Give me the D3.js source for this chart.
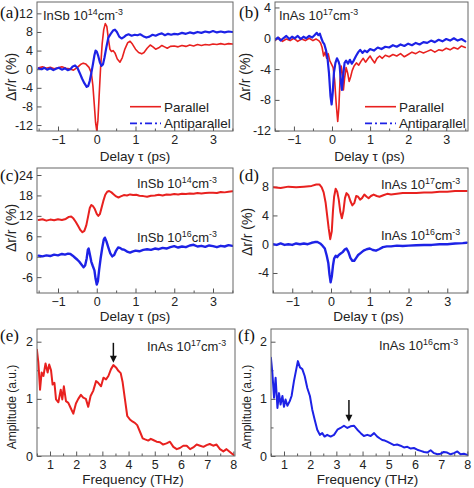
<!DOCTYPE html>
<html><head><meta charset="utf-8">
<script src="https://cdn.jsdelivr.net/npm/d3@7"></script>
<style>
body{margin:0;background:#fff;}
svg{display:block;}
text{font-family:"Liberation Sans",Arial,sans-serif;fill:#222;}
.plab{font-family:"Liberation Serif","Times New Roman",serif;font-size:17px;fill:#111;}
</style>
</head><body>
<script>
// ---------------- DATA ----------------
const timeTicks = [-1, 0, 1, 2, 3];
const timeMinor = [-1.5, -0.5, 0.5, 1.5, 2.5, 3.5];
const freqTicks = [1, 2, 3, 4, 5, 6, 7, 8];
const freqMinor = [0.5, 1.5, 2.5, 3.5, 4.5, 5.5, 6.5, 7.5];
const yTicksA = [-12, -8, -4, 0, 4, 8, 12];
const yTicksB = [-12, -8, -4, 0, 4];
const yTicksC = [-6, 0, 6, 12, 18, 24];
const yTicksD = [-4, 0, 4, 8];
const yTicksAmp = [0, 1, 2];
const yMinorAmp = [0.5, 1.5];

const legendLabels = ["Parallel", "Antiparallel"];
const labelInSb14 = [["InSb 10", 0], ["14", 1], ["cm", 0], ["-3", 1]];
const labelInSb16 = [["InSb 10", 0], ["16", 1], ["cm", 0], ["-3", 1]];
const labelInAs17 = [["InAs 10", 0], ["17", 1], ["cm", 0], ["-3", 1]];
const labelInAs16 = [["InAs 10", 0], ["16", 1], ["cm", 0], ["-3", 1]];

// (a) InSb 1e14: parallel / antiparallel
const aParallel = [[-1.5,0.3],[-1.4,0.5],[-1.3,0.2],[-1.2,0.4],[-1.1,0.1],[-1.0,0.3],[-0.9,0.5],[-0.8,0.2],[-0.7,0.1],[-0.6,-0.2],[-0.5,0.4],[-0.42,1.0],[-0.35,1.3],[-0.28,1.1],[-0.2,0.4],[-0.14,-0.8],[-0.1,-3.5],[-0.06,-8],[-0.03,-11.5],[0.0,-13.2],[0.03,-11],[0.06,-6],[0.1,0.5],[0.14,5.5],[0.18,8.5],[0.22,9.8],[0.26,9.2],[0.3,6.5],[0.34,4.3],[0.38,3.8],[0.42,4.0],[0.47,3.5],[0.53,2.2],[0.6,1.5],[0.66,2.5],[0.72,4.2],[0.8,5.7],[0.86,6.0],[0.92,5.4],[1.0,4.3],[1.08,3.6],[1.16,3.3],[1.22,3.6],[1.3,4.5],[1.38,5.2],[1.45,4.8],[1.52,4.3],[1.6,4.6],[1.68,5.1],[1.75,4.8],[1.82,4.5],[1.9,4.9],[2.0,5.0],[2.1,4.8],[2.2,5.1],[2.3,4.9],[2.4,5.2],[2.5,5.0],[2.6,5.3],[2.7,5.1],[2.8,5.3],[2.9,5.2],[3.0,5.4],[3.1,5.3],[3.2,5.5],[3.3,5.3],[3.4,5.5],[3.5,5.4]];
const aAnti = [[-1.5,0.2],[-1.42,0.0],[-1.35,0.3],[-1.28,-0.1],[-1.2,0.2],[-1.12,-0.2],[-1.05,0.1],[-0.98,0.3],[-0.9,-0.1],[-0.82,0.2],[-0.75,-0.2],[-0.68,0.0],[-0.62,0.6],[-0.56,0.8],[-0.5,0.3],[-0.44,-0.8],[-0.38,-2.0],[-0.32,-3.0],[-0.26,-3.8],[-0.22,-3.6],[-0.18,-2.5],[-0.14,-0.8],[-0.1,1.0],[-0.06,3.0],[-0.03,4.0],[0.0,3.8],[0.04,2.8],[0.08,1.5],[0.12,0.7],[0.16,1.0],[0.2,2.5],[0.25,4.8],[0.3,6.8],[0.36,7.6],[0.42,8.3],[0.47,8.5],[0.52,8.0],[0.58,7.0],[0.64,6.6],[0.7,6.9],[0.76,7.3],[0.82,7.5],[0.9,7.2],[0.98,7.4],[1.05,7.3],[1.12,7.5],[1.2,7.1],[1.28,6.8],[1.36,7.0],[1.44,7.4],[1.52,7.2],[1.6,7.5],[1.68,7.7],[1.76,7.3],[1.84,7.6],[1.92,7.4],[2.0,7.6],[2.1,7.5],[2.2,7.8],[2.3,7.6],[2.4,7.9],[2.5,7.7],[2.6,8.0],[2.7,7.8],[2.8,8.1],[2.9,7.9],[3.0,8.2],[3.1,7.9],[3.2,8.1],[3.3,7.9],[3.4,8.1],[3.5,8.0]];

// (b) InAs 1e17: parallel / antiparallel
const bParallel = [[-1.5,-0.3],[-1.4,0.1],[-1.3,-0.4],[-1.2,-0.1],[-1.1,-0.3],[-1.0,0.0],[-0.9,-0.4],[-0.8,-0.1],[-0.7,-0.3],[-0.6,0.0],[-0.5,-0.3],[-0.42,-0.1],[-0.35,-0.3],[-0.3,-0.6],[-0.26,-1.2],[-0.22,-2.3],[-0.18,-1.8],[-0.14,-2.6],[-0.1,-2.0],[-0.06,-2.9],[-0.02,-3.3],[0.03,-3.8],[0.07,-5.5],[0.11,-8.5],[0.15,-10.8],[0.18,-9.0],[0.21,-5.5],[0.24,-3.6],[0.27,-4.5],[0.3,-6.7],[0.33,-5.2],[0.37,-3.8],[0.41,-4.5],[0.45,-5.6],[0.49,-5.0],[0.53,-4.2],[0.58,-3.6],[0.64,-3.2],[0.7,-3.5],[0.76,-3.0],[0.82,-2.6],[0.88,-3.1],[0.94,-2.7],[1.0,-2.3],[1.06,-2.8],[1.12,-3.2],[1.18,-2.6],[1.25,-2.3],[1.32,-2.6],[1.4,-2.2],[1.5,-2.4],[1.6,-2.1],[1.7,-2.3],[1.8,-2.0],[1.9,-2.4],[2.0,-2.1],[2.1,-1.8],[2.2,-2.0],[2.3,-1.7],[2.4,-1.9],[2.5,-1.7],[2.6,-1.5],[2.7,-1.8],[2.8,-1.5],[2.9,-1.6],[3.0,-1.3],[3.1,-1.5],[3.2,-1.2],[3.3,-1.4],[3.4,-1.0],[3.5,-1.2]];
const bAnti = [[-1.5,-0.2],[-1.42,0.1],[-1.35,-0.3],[-1.28,0.0],[-1.2,0.3],[-1.12,-0.1],[-1.05,0.2],[-0.98,0.0],[-0.9,0.3],[-0.82,-0.1],[-0.75,0.2],[-0.68,0.0],[-0.6,0.3],[-0.52,0.1],[-0.46,0.4],[-0.4,0.7],[-0.36,0.4],[-0.32,0.6],[-0.28,0.0],[-0.24,-0.5],[-0.2,-0.8],[-0.16,-1.5],[-0.12,-2.5],[-0.08,-4.5],[-0.04,-7.5],[-0.01,-8.6],[0.02,-7.0],[0.05,-4.5],[0.09,-3.2],[0.13,-2.6],[0.17,-3.0],[0.2,-3.5],[0.23,-5.5],[0.26,-6.7],[0.29,-5.0],[0.33,-3.2],[0.37,-2.9],[0.42,-3.3],[0.47,-2.8],[0.52,-3.3],[0.57,-2.9],[0.63,-2.3],[0.69,-1.8],[0.74,-1.5],[0.8,-1.9],[0.86,-1.6],[0.92,-1.8],[1.0,-1.4],[1.1,-1.6],[1.2,-1.2],[1.3,-1.4],[1.4,-1.1],[1.5,-1.2],[1.6,-0.9],[1.7,-1.1],[1.8,-0.8],[1.9,-1.0],[2.0,-0.7],[2.1,-0.9],[2.2,-0.6],[2.3,-0.8],[2.4,-0.5],[2.5,-0.6],[2.6,-0.3],[2.7,-0.5],[2.8,-0.2],[2.9,-0.4],[3.0,-0.1],[3.1,-0.3],[3.2,0.0],[3.3,-0.3],[3.4,-0.1],[3.5,-0.4]];

// (c) InSb 1e14 (offset) and 1e16
const cInSb14 = [[-1.5,10.8],[-1.4,11.0],[-1.3,10.6],[-1.2,10.9],[-1.1,10.7],[-1.0,11.0],[-0.9,10.8],[-0.8,11.1],[-0.72,11.7],[-0.66,11.8],[-0.6,11.2],[-0.54,10.2],[-0.48,9.0],[-0.42,7.8],[-0.37,7.2],[-0.32,7.6],[-0.27,9.2],[-0.22,12.0],[-0.18,14.3],[-0.14,15.2],[-0.1,14.9],[-0.05,14.0],[0.0,12.6],[0.04,12.0],[0.08,12.5],[0.12,14.2],[0.17,16.4],[0.22,18.2],[0.27,19.1],[0.32,19.3],[0.38,18.9],[0.44,18.3],[0.5,17.7],[0.56,17.4],[0.62,17.7],[0.7,18.1],[0.78,18.0],[0.86,18.3],[0.94,18.1],[1.02,18.2],[1.1,17.9],[1.2,17.8],[1.3,17.6],[1.4,17.9],[1.5,18.0],[1.6,18.2],[1.7,18.0],[1.8,18.3],[1.9,18.2],[2.0,18.4],[2.1,18.3],[2.2,18.5],[2.3,18.4],[2.4,18.6],[2.5,18.5],[2.6,18.7],[2.7,18.6],[2.8,18.7],[2.9,18.8],[3.0,18.8],[3.1,18.7],[3.2,19.0],[3.3,18.9],[3.4,19.1],[3.5,19.2]];
const cInSb16 = [[-1.5,0.3],[-1.4,0.1],[-1.3,0.4],[-1.2,0.2],[-1.1,0.6],[-1.0,0.4],[-0.9,0.8],[-0.82,0.6],[-0.74,0.9],[-0.68,0.8],[-0.62,0.3],[-0.56,-0.3],[-0.5,-0.9],[-0.44,-1.6],[-0.38,-2.5],[-0.34,-3.1],[-0.3,-2.6],[-0.26,-0.5],[-0.23,2.0],[-0.21,2.4],[-0.18,0.8],[-0.14,-1.5],[-0.1,-2.8],[-0.06,-4.0],[-0.03,-6.5],[0.0,-8.2],[0.03,-7.2],[0.06,-4.0],[0.1,-0.5],[0.14,2.5],[0.18,5.0],[0.21,5.6],[0.25,4.5],[0.3,2.7],[0.35,1.0],[0.4,0.1],[0.45,0.5],[0.5,1.8],[0.55,2.7],[0.6,2.6],[0.65,2.2],[0.72,2.0],[0.8,1.4],[0.86,1.2],[0.92,1.5],[1.0,1.8],[1.1,1.6],[1.2,2.0],[1.3,2.2],[1.4,2.0],[1.5,2.4],[1.6,2.2],[1.7,2.6],[1.8,2.4],[1.9,2.8],[2.0,3.1],[2.1,2.7],[2.2,3.0],[2.3,2.8],[2.4,3.3],[2.5,3.5],[2.6,3.0],[2.7,3.2],[2.8,2.9],[2.9,3.3],[3.0,3.1],[3.1,2.8],[3.2,3.2],[3.3,3.0],[3.4,3.4],[3.5,3.2]];

// (d) InAs 1e17 (offset) and 1e16
const dInAs17 = [[-1.5,7.9],[-1.3,7.8],[-1.1,8.0],[-0.9,7.9],[-0.7,8.0],[-0.5,8.1],[-0.38,8.3],[-0.3,8.3],[-0.24,7.9],[-0.19,7.2],[-0.14,5.8],[-0.1,4.0],[-0.06,2.2],[-0.02,0.7],[0.02,1.8],[0.05,4.6],[0.08,6.6],[0.12,7.7],[0.16,7.3],[0.2,6.2],[0.24,4.5],[0.28,3.6],[0.32,4.6],[0.36,6.4],[0.4,7.1],[0.45,6.8],[0.5,6.0],[0.55,5.4],[0.6,5.7],[0.65,6.7],[0.7,6.6],[0.75,6.2],[0.8,6.4],[0.86,6.9],[0.92,6.6],[0.97,6.4],[1.03,6.7],[1.1,6.9],[1.18,6.7],[1.25,6.6],[1.35,6.8],[1.45,7.0],[1.55,6.9],[1.7,7.0],[1.85,7.1],[2.0,7.1],[2.2,7.1],[2.4,7.2],[2.6,7.2],[2.8,7.3],[3.0,7.3],[3.2,7.4],[3.4,7.4],[3.5,7.4]];
const dInAs16 = [[-1.5,0.0],[-1.4,-0.1],[-1.3,0.1],[-1.2,-0.1],[-1.1,0.0],[-1.0,-0.1],[-0.9,0.1],[-0.8,0.0],[-0.7,0.1],[-0.6,0.0],[-0.5,0.2],[-0.42,0.3],[-0.35,0.3],[-0.28,0.1],[-0.22,-0.2],[-0.16,-0.6],[-0.11,-1.6],[-0.07,-2.6],[-0.04,-4.2],[-0.01,-5.3],[0.02,-4.5],[0.05,-3.0],[0.08,-2.0],[0.12,-1.6],[0.16,-1.8],[0.2,-1.5],[0.25,-1.3],[0.3,-1.1],[0.36,-0.7],[0.4,-0.6],[0.45,-1.1],[0.5,-1.9],[0.55,-2.3],[0.6,-2.3],[0.65,-1.9],[0.7,-1.5],[0.77,-1.2],[0.84,-0.9],[0.92,-0.7],[1.0,-0.6],[1.08,-0.8],[1.16,-0.9],[1.24,-0.7],[1.34,-0.4],[1.44,-0.3],[1.55,-0.3],[1.7,-0.2],[1.85,-0.25],[2.0,-0.2],[2.2,-0.15],[2.4,-0.1],[2.6,-0.1],[2.8,0.0],[3.0,0.0],[3.2,0.1],[3.4,0.15],[3.5,0.2]];

// (e) FFT amplitude InAs 1e17 ; (f) InAs 1e16
const eAmp = [[0.5,1.86],[0.555,1.64],[0.62,1.16],[0.68,1.46],[0.75,1.40],[0.83,1.62],[0.91,1.46],[0.97,1.60],[1.04,1.50],[1.10,1.25],[1.17,1.28],[1.23,0.99],[1.32,0.94],[1.41,1.16],[1.47,0.99],[1.53,1.22],[1.61,0.96],[1.70,0.93],[1.79,0.84],[1.89,0.74],[1.99,0.92],[2.08,1.00],[2.18,1.07],[2.27,1.02],[2.37,1.00],[2.46,0.86],[2.55,1.05],[2.65,1.14],[2.76,1.31],[2.84,1.28],[2.95,1.22],[3.04,1.37],[3.14,1.34],[3.23,1.40],[3.33,1.52],[3.42,1.59],[3.52,1.55],[3.61,1.49],[3.70,1.45],[3.77,1.30],[3.86,1.00],[3.95,0.70],[4.05,0.64],[4.16,0.60],[4.24,0.58],[4.33,0.54],[4.44,0.42],[4.54,0.31],[4.63,0.29],[4.75,0.27],[4.85,0.30],[4.94,0.28],[5.07,0.25],[5.20,0.24],[5.32,0.20],[5.45,0.22],[5.58,0.25],[5.71,0.16],[5.84,0.12],[5.96,0.14],[6.09,0.18],[6.22,0.18],[6.35,0.12],[6.47,0.15],[6.6,0.20],[6.73,0.18],[6.86,0.16],[6.98,0.19],[7.1,0.21],[7.23,0.18],[7.36,0.20],[7.49,0.12],[7.62,0.08],[7.74,0.12],[7.87,0.07],[8.0,0.02]];
const fAmp = [[0.5,1.72],[0.555,1.46],[0.62,1.02],[0.68,1.37],[0.75,0.84],[0.81,1.10],[0.87,0.90],[0.94,1.05],[1.0,0.86],[1.06,0.99],[1.13,0.88],[1.22,0.96],[1.29,1.05],[1.38,1.31],[1.47,1.52],[1.53,1.66],[1.61,1.55],[1.70,1.52],[1.79,1.40],[1.89,1.19],[1.99,1.05],[2.08,0.81],[2.17,0.64],[2.27,0.46],[2.37,0.37],[2.46,0.40],[2.55,0.34],[2.65,0.37],[2.78,0.34],[2.91,0.37],[3.04,0.46],[3.16,0.49],[3.29,0.53],[3.42,0.49],[3.54,0.52],[3.67,0.53],[3.80,0.46],[3.93,0.40],[4.05,0.35],[4.18,0.37],[4.31,0.35],[4.44,0.40],[4.56,0.34],[4.65,0.31],[4.75,0.28],[4.85,0.27],[4.94,0.25],[5.07,0.22],[5.20,0.19],[5.32,0.20],[5.45,0.18],[5.58,0.15],[5.71,0.16],[5.84,0.13],[5.96,0.14],[6.09,0.11],[6.22,0.09],[6.35,0.07],[6.47,0.06],[6.60,0.10],[6.73,0.05],[6.86,0.03],[6.98,0.04],[7.1,0.07],[7.23,0.06],[7.36,0.03],[7.49,0.05],[7.62,0.08],[7.74,0.03],[7.87,0.04],[8.0,0.02]];

// arrows marking the 3.4 THz mode: [frequency, amplitude start, amplitude end]
const arrowE = [3.42, 1.98, 1.63];
const arrowF = [3.48, 0.98, 0.60];

// ---------------- DRAW ----------------
const W = 474, H = 488;
const RED = "#e8211f", BLUE = "#1d22e6";
const svg = d3.select("body").append("svg").attr("width", W).attr("height", H);

function rich(g, x, y, parts, size) {
  const t = g.append("text").attr("x", x).attr("y", y).style("font-size", size + "px");
  let sup = 0;
  parts.forEach(([s, isSup]) => {
    const sp = t.append("tspan").text(s);
    if (isSup && !sup) { sp.attr("dy", -5).style("font-size", (size * 0.68) + "px"); sup = 1; }
    else if (isSup && sup) { sp.style("font-size", (size * 0.68) + "px"); }
    else if (!isSup && sup) { sp.attr("dy", 5); sup = 0; }
  });
  return t;
}

function panel(cfg) {
  const [L, T, R, B] = cfg.box;
  const x = d3.scaleLinear().domain(cfg.xd).range([L, R]);
  const y = d3.scaleLinear().domain(cfg.yd).range([B, T]);
  const g = svg.append("g");
  const clipId = "clip" + cfg.id;
  svg.append("clipPath").attr("id", clipId).append("rect")
    .attr("x", L).attr("y", T).attr("width", R - L).attr("height", B - T);

  // minor ticks
  g.append("g").attr("transform", `translate(0,${B})`)
    .call(d3.axisBottom(x).tickValues(cfg.xMinor).tickSize(-2.5).tickFormat(""))
    .call(s => s.select(".domain").remove());
  if (cfg.yMinor) g.append("g").attr("transform", `translate(${L},0)`)
    .call(d3.axisLeft(y).tickValues(cfg.yMinor).tickSize(-2.5).tickFormat(""))
    .call(s => s.select(".domain").remove());
  // major
  const xa = g.append("g").attr("transform", `translate(0,${B})`)
    .call(d3.axisBottom(x).tickValues(cfg.xTicks).tickSize(-4.5).tickPadding(4).tickFormat(d3.format("d")));
  const ya = g.append("g").attr("transform", `translate(${L},0)`)
    .call(d3.axisLeft(y).tickValues(cfg.yTicks).tickSize(-4.5).tickPadding(4).tickFormat(d => d < 0 ? "-" + Math.abs(d) : d));
  [xa, ya].forEach(a => {
    a.select(".domain").remove();
    a.selectAll("text").style("font-size", "12.5px").style("font-family", '"Liberation Sans",Arial,sans-serif').attr("fill", "#222");
  });
  g.selectAll(".tick line").attr("stroke", "#555");

  // series
  const line = d3.line().x(d => x(d[0])).y(d => y(d[1]));
  cfg.series.forEach(s => {
    g.append("path").datum(s.data).attr("d", line).attr("clip-path", `url(#${clipId})`)
      .attr("fill", "none").attr("stroke", s.color).attr("stroke-width", s.w)
      .attr("stroke-linejoin", "round").attr("stroke-linecap", "round");
  });

  // frame
  g.append("rect").attr("x", L).attr("y", T).attr("width", R - L).attr("height", B - T)
    .attr("fill", "none").attr("stroke", "#666").attr("stroke-width", 1);

  // titles
  g.append("text").attr("x", (L + R) / 2 + cfg.xtDx).attr("y", cfg.xtY).attr("text-anchor", "middle")
    .style("font-size", cfg.xtSize + "px").text(cfg.xTitle);
  g.append("text").attr("transform", `translate(${cfg.ytX},${cfg.ytY}) rotate(-90)`)
    .attr("text-anchor", "middle").style("font-size", cfg.ytSize + "px").text(cfg.yTitle);
  g.append("text").attr("class", "plab").attr("x", cfg.lab[0]).attr("y", cfg.lab[1]).text("(" + cfg.id + ")");
  cfg.notes.forEach(n => rich(g, n[0], n[1], n[2], 13));

  if (cfg.legend) {
    const [lx, ly] = cfg.legend;
    const styles = [{c: RED, dash: null, w: 1.6}, {c: BLUE, dash: "7,3,2,3", w: 1.8}];
    legendLabels.forEach((lab, i) => {
      const yy = ly + i * 16.6;
      g.append("line").attr("x1", lx).attr("x2", lx + 31).attr("y1", yy).attr("y2", yy)
        .attr("stroke", styles[i].c).attr("stroke-width", styles[i].w).attr("stroke-dasharray", styles[i].dash);
      g.append("text").attr("x", lx + 34).attr("y", yy + 5).style("font-size", "13.5px").text(lab);
    });
  }
  if (cfg.arrow) {
    const [fx, a0, a1] = cfg.arrow;
    const xx = x(fx);
    g.append("line").attr("x1", xx).attr("x2", xx).attr("y1", y(a0)).attr("y2", y(a1) - 5)
      .attr("stroke", "#111").attr("stroke-width", 1.5);
    g.append("path").attr("d", `M${xx - 3.5},${y(a1) - 7}L${xx + 3.5},${y(a1) - 7}L${xx},${y(a1)}Z`).attr("fill", "#111");
  }
}

const dr = "\u0394r/r (%)";
const dl = "Delay \u03c4 (ps)";
panel({id: "a", box: [37, 2, 233, 131], xd: [-1.542, 3.516], yd: [-13.28, 14.44],
  xTicks: timeTicks, xMinor: timeMinor, yTicks: yTicksA, yMinor: null,
  series: [{data: aParallel, color: RED, w: 1.6}, {data: aAnti, color: BLUE, w: 2.2}],
  xTitle: dl, xtSize: 13.5, xtY: 161, xtDx: 0, yTitle: dr, ytSize: 14, ytX: 16, ytY: 77, lab: [0, 18],
  notes: [[43, 20, labelInSb14]], legend: [130, 106.7]});
panel({id: "b", box: [275, 2, 468, 131], xd: [-1.497, 3.571], yd: [-12.04, 4.71],
  xTicks: timeTicks, xMinor: timeMinor, yTicks: yTicksB, yMinor: null,
  series: [{data: bParallel, color: RED, w: 1.6}, {data: bAnti, color: BLUE, w: 2.2}],
  xTitle: dl, xtSize: 13.5, xtY: 161, xtDx: -2, yTitle: dr, ytSize: 14, ytX: 250, ytY: 77, lab: [239, 18],
  notes: [[279, 20, labelInAs17]], legend: [365, 106.7]});
panel({id: "c", box: [37, 168, 233, 293], xd: [-1.542, 3.516], yd: [-10.66, 26.06],
  xTicks: timeTicks, xMinor: timeMinor, yTicks: yTicksC, yMinor: null,
  series: [{data: cInSb14, color: RED, w: 2}, {data: cInSb16, color: BLUE, w: 2.4}],
  xTitle: dl, xtSize: 13.5, xtY: 321, xtDx: 0, yTitle: dr, ytSize: 14, ytX: 16, ytY: 228, lab: [0, 181],
  notes: [[137, 188, labelInSb14], [137, 242, labelInSb16]]});
panel({id: "d", box: [273, 168, 468, 293], xd: [-1.497, 3.535], yd: [-6.78, 10.59],
  xTicks: timeTicks, xMinor: timeMinor, yTicks: yTicksD, yMinor: null,
  series: [{data: dInAs17, color: RED, w: 2}, {data: dInAs16, color: BLUE, w: 2.4}],
  xTitle: dl, xtSize: 13.5, xtY: 321, xtDx: -2, yTitle: dr, ytSize: 14, ytX: 252, ytY: 232, lab: [239, 181],
  notes: [[381, 189, labelInAs17], [381, 240, labelInAs16]]});
panel({id: "e", box: [37, 329, 235, 456], xd: [0.504, 8.064], yd: [0, 2.222],
  xTicks: freqTicks, xMinor: freqMinor, yTicks: yTicksAmp, yMinor: yMinorAmp,
  series: [{data: eAmp, color: RED, w: 2}],
  xTitle: "Frequency (THz)", xtSize: 13.5, xtY: 484, xtDx: -3, yTitle: "Amplitude (a.u.)", ytSize: 12, ytX: 16, ytY: 407, lab: [0, 341],
  notes: [[147, 351, labelInAs17]], arrow: arrowE});
panel({id: "f", box: [271, 329, 468, 456], xd: [0.504, 8.026], yd: [0, 2.222],
  xTicks: freqTicks, xMinor: freqMinor, yTicks: yTicksAmp, yMinor: yMinorAmp,
  series: [{data: fAmp, color: BLUE, w: 2}],
  xTitle: "Frequency (THz)", xtSize: 13.5, xtY: 484, xtDx: -2, yTitle: "Amplitude (a.u.)", ytSize: 12, ytX: 251, ytY: 407, lab: [238, 341],
  notes: [[379, 350, labelInAs16]], arrow: arrowF});
</script>
</body></html>
